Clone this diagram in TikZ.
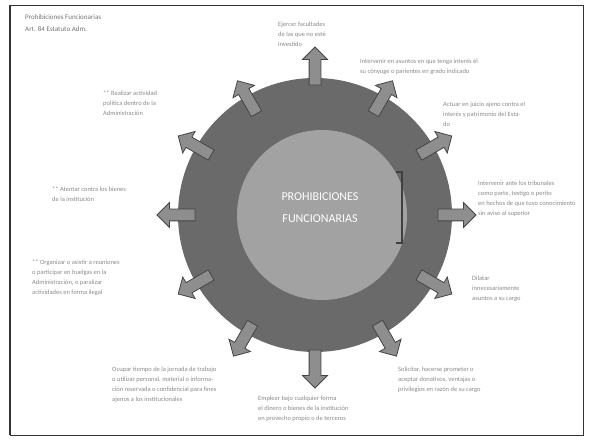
\documentclass[tikz,border=0pt]{standalone}
\usepackage{fontspec}
\setmainfont{Carlito}
\usetikzlibrary{shapes.arrows}
\definecolor{ringgray}{HTML}{6A6A6A}
\definecolor{coregray}{HTML}{A2A2A2}
\definecolor{raygray}{HTML}{8E8E8E}
\definecolor{raydark}{HTML}{444444}
\definecolor{notegray}{HTML}{8A8A8A}

\begin{document}
\begin{tikzpicture}[x=1pt,y=1pt,
   ray/.style={single arrow, draw=raydark, fill=raygray, line width=0.8pt,
      inner xsep=0pt, inner ysep=5.5pt, minimum height=38pt,
      single arrow head extend=6.5pt},
   note/.style={anchor=north west, align=left, inner sep=0pt,
      text=notegray, font=\fontsize{6.5}{10}\selectfont}]
   \useasboundingbox (0,0) rectangle (590,441);
   % Frame
   \draw[line width=0.8pt, black!80] (10,436) rectangle (583,6);
   \draw[line width=2.5pt, black!80] (10,436) -- (10,6);
   % Title
   \node[note, text=black!55, font=\fontsize{7}{12}\selectfont] (title) at (25,427)
      {Prohibiciones Funcionarias\\Art. 84 Estatuto Adm.};
   % Ring and core
   \coordinate (c) at (315,226);
   \fill[ringgray] (c) circle [radius=137];
   \fill[coregray] (322,226) circle [radius=85];
   \node[text=white, align=center, font=\fontsize{12}{22}\selectfont] (core) at (320,233)
      {PROHIBICIONES\\FUNCIONARIAS};
   % Bracket
   \draw[line width=1.2pt, black!75] (396,269) -- (402,269) -- (402,198) -- (396,198);
   % Rays
   \path (c) ++(90:146)   node[ray, rotate=90]   (r90)   {};
   \path (c) ++(60:133)   node[ray, rotate=60]   (r60)   {};
   \path (c) ++(30:136)   node[ray, rotate=30]   (r30)   {};
   \path (c) ++(0:139)    node[ray, rotate=0]    (r0)    {};
   \path (c) ++(-30:136)  node[ray, rotate=-30]  (r-30)  {};
   \path (c) ++(-60:141)  node[ray, rotate=-60]  (r-60)  {};
   \path (c) ++(-90:151)  node[ray, rotate=-90]  (r-90)  {};
   \path (c) ++(-120:141) node[ray, rotate=-120] (r-120) {};
   \path (c) ++(-150:136) node[ray, rotate=-150] (r-150) {};
   \path (c) ++(180:136)  node[ray, rotate=180]  (r180)  {};
   \path (c) ++(150:136)  node[ray, rotate=150]  (r150)  {};
   \path (c) ++(120:133)  node[ray, rotate=120]  (r120)  {};
   % Notes
   \node[note] (n1) at (278,419) {Ejercer facultades\\de las que no esté\\investido};
   \node[note] (n2) at (360,382) {Intervenir en asuntos en que tenga interés él\\su cónyuge o parientes en grado indicado};
   \node[note] (n3) at (443,339) {Actuar en juicio ajeno contra el\\interés y patrimonio del Esta-\\do};
   \node[note] (n4) at (478,260) {Intervenir ante los tribunales\\como parte, testigo o perito\\en hechos de que tuvo conocimiento\\sin aviso al superior};
   \node[note] (n5) at (472,165) {Dilatar\\innecesariamente\\asuntos a su cargo};
   \node[note] (n6) at (398,74) {Solicitar, hacerse prometer o\\aceptar donativos, ventajas o\\privilegios en razón de su cargo};
   \node[note] (n7) at (258,45) {Emplear bajo cualquier forma\\el dinero o bienes de la institución\\en provecho propio o de terceros};
   \node[note] (n8) at (112,74) {Ocupar tiempo de la jornada de trabajo\\o utilizar personal, material o informa-\\ción reservada o confidencial para fines\\ajenos a los institucionales};
   \node[note] (n9) at (32,181) {** Organizar o asistir a reuniones\\o participar en huelgas en la\\Administración, o paralizar\\actividades en forma ilegal};
   \node[note] (n10) at (52,254) {** Atentar contra los bienes\\de la institución};
   \node[note] (n11) at (103,350) {** Realizar actividad\\política dentro de la\\Administración};
\end{tikzpicture}
\end{document}
